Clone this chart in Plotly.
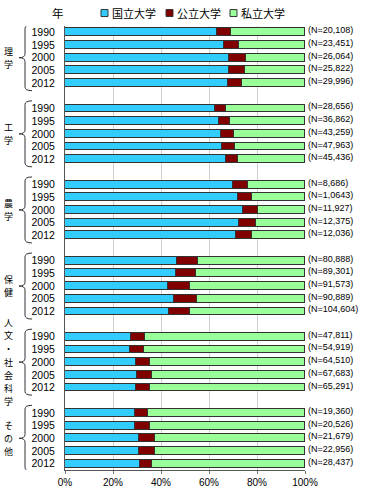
import plotly.graph_objects as go

# ---------------- data ----------------
groups = ["理学", "工学", "農学", "保健", "人文・社会科学", "その他"]
years = ["1990", "1995", "2000", "2005", "2012"]

national = [
    [63.5, 66.3, 68.5, 68.5, 67.9],
    [62.5, 64.2, 65.1, 65.4, 67.1],
    [69.9, 71.9, 74.2, 72.6, 71.1],
    [46.8, 46.4, 42.9, 45.4, 43.5],
    [27.6, 27.1, 29.6, 30.1, 29.7],
    [29.0, 29.2, 31.0, 31.0, 31.3],
]
public = [
    [5.5, 6.1, 6.8, 6.5, 5.9],
    [4.6, 4.7, 5.2, 5.3, 5.1],
    [6.5, 6.2, 6.2, 6.8, 7.0],
    [8.6, 8.3, 9.3, 9.5, 8.6],
    [5.7, 5.8, 6.0, 6.1, 5.7],
    [5.4, 6.1, 6.3, 6.7, 5.1],
]
private = [
    [31.0, 27.6, 24.7, 25.0, 26.2],
    [32.9, 31.1, 29.7, 29.3, 27.8],
    [23.6, 21.9, 19.6, 20.6, 21.9],
    [44.6, 45.3, 47.8, 45.1, 47.9],
    [66.7, 67.1, 64.4, 63.8, 64.6],
    [65.6, 64.7, 62.7, 62.3, 63.6],
]
n_labels = [
    ["(N=20,108)", "(N=23,451)", "(N=26,064)", "(N=25,822)", "(N=29,996)"],
    ["(N=28,656)", "(N=36,862)", "(N=43,259)", "(N=47,963)", "(N=45,436)"],
    ["(N=8,686)", "(N=1,0643)", "(N=11,927)", "(N=12,375)", "(N=12,036)"],
    ["(N=80,888)", "(N=89,301)", "(N=91,573)", "(N=90,889)", "(N=104,604)"],
    ["(N=47,811)", "(N=54,919)", "(N=64,510)", "(N=67,683)", "(N=65,291)"],
    ["(N=19,360)", "(N=20,526)", "(N=21,679)", "(N=22,956)", "(N=28,437)"],
]
series_names = ["国立大学", "公立大学", "私立大学"]
x_ticks = [0, 20, 40, 60, 80, 100]
x_tick_labels = ["0%", "20%", "40%", "60%", "80%", "100%"]

# ---------------- style ----------------
colors = ["#33CCFF", "#800000", "#99FF99"]
W, H = 379, 500
ML, MR, MT, MB = 65, 74, 26, 28
PW = W - ML - MR
PH = H - MT - MB
FONT = "Liberation Sans, Arial, Noto Sans CJK JP"
JFONT = "Noto Sans CJK JP"


def px_x(x):
    return (x - ML) / PW


def px_y(y):
    return (H - MB - y) / PH


# slot positions: 5 bars per group + 1 blank slot between groups
slots = []
for g in range(len(groups)):
    for i in range(len(years)):
        slots.append(g * 6 + i)
n_slots = slots[-1] + 1

fig = go.Figure()
all_series = [national, public, private]
for k, name in enumerate(series_names):
    xs = [v for row in all_series[k] for v in row]
    fig.add_trace(go.Bar(
        y=slots, x=xs, orientation="h", name=name,
        marker=dict(color=colors[k], line=dict(color="#333333", width=1)),
        width=0.62, showlegend=False, hoverinfo="x+name",
    ))

ann = []
# N labels
for g in range(len(groups)):
    for i in range(len(years)):
        ann.append(dict(x=100, y=g * 6 + i, xref="x", yref="y", text=n_labels[g][i],
                        showarrow=False, xanchor="left", yanchor="middle",
                        xshift=1, yshift=2, font=dict(size=9, color="#000", family=FONT)))

shapes = []
# group labels (vertical, one character per line) + braces
for g, name in enumerate(groups):
    s0 = g * 6
    mid = s0 + 2
    chars = list(name)
    n = len(chars)
    for j, ch in enumerate(chars):
        ann.append(dict(x=px_x(8), y=mid, xref="paper", yref="y", text=ch, showarrow=False,
                        xanchor="center", yanchor="middle", borderpad=0,
                        yshift=-(j - (n - 1) / 2) * 13.2,
                        font=dict(size=9, color="#000", family=JFONT)))
    top = s0 - 0.6
    bot = s0 + 4 + 0.6
    xr, xv, xt = px_x(32), px_x(25), px_x(19)
    path = (f"M {xr},{top} Q {xv},{top} {xv},{top + 0.3} L {xv},{mid - 0.3} "
            f"Q {xv},{mid} {xt},{mid} Q {xv},{mid} {xv},{mid + 0.3} "
            f"L {xv},{bot - 0.3} Q {xv},{bot} {xr},{bot}")
    shapes.append(dict(type="path", path=path, xref="paper", yref="y",
                       line=dict(color="#333333", width=1)))

# custom legend
ann.append(dict(x=px_x(58), y=px_y(13), xref="paper", yref="paper", text="年", showarrow=False,
                xanchor="center", yanchor="middle", font=dict(size=11.5, color="#000", family=JFONT)))
leg_x = [101, 166, 230]
for k, name in enumerate(series_names):
    x0 = leg_x[k]
    shapes.append(dict(type="rect", xref="paper", yref="paper",
                       x0=px_x(x0), x1=px_x(x0 + 7), y0=px_y(16.5), y1=px_y(9.5),
                       fillcolor=colors[k], line=dict(color="#333333", width=1)))
    ann.append(dict(x=px_x(x0 + 8.5), y=px_y(13), xref="paper", yref="paper", text=name,
                    showarrow=False, xanchor="left", yanchor="middle",
                    font=dict(size=11, color="#000", family=JFONT)))

fig.update_layout(
    width=W, height=H,
    margin=dict(l=ML, r=MR, t=MT, b=MB, pad=0),
    barmode="stack", bargap=0,
    plot_bgcolor="#FFFFFF", paper_bgcolor="#FFFFFF",
    font=dict(family=FONT, size=10, color="#000"),
    annotations=ann, shapes=shapes,
    xaxis=dict(range=[0, 100], tickvals=x_ticks, ticktext=x_tick_labels,
               showgrid=True, gridcolor="#D0D0D0", gridwidth=1,
               showline=True, linecolor="#555555", linewidth=1,
               ticks="outside", ticklen=3, tickcolor="#777777",
               zeroline=False, tickfont=dict(size=10), fixedrange=True),
    yaxis=dict(range=[n_slots - 0.5, -0.5], tickvals=slots,
               ticktext=[years[i] for g in range(len(groups)) for i in range(len(years))],
               showgrid=False, zeroline=False, showline=True, linecolor="#555555", linewidth=1,
               ticks="", ticklabelstandoff=7, tickfont=dict(size=10.5), fixedrange=True),
)

fig.write_html("out.html", config={"displayModeBar": False},
               post_script="document.body.style.margin='0';document.body.style.padding='0';")
